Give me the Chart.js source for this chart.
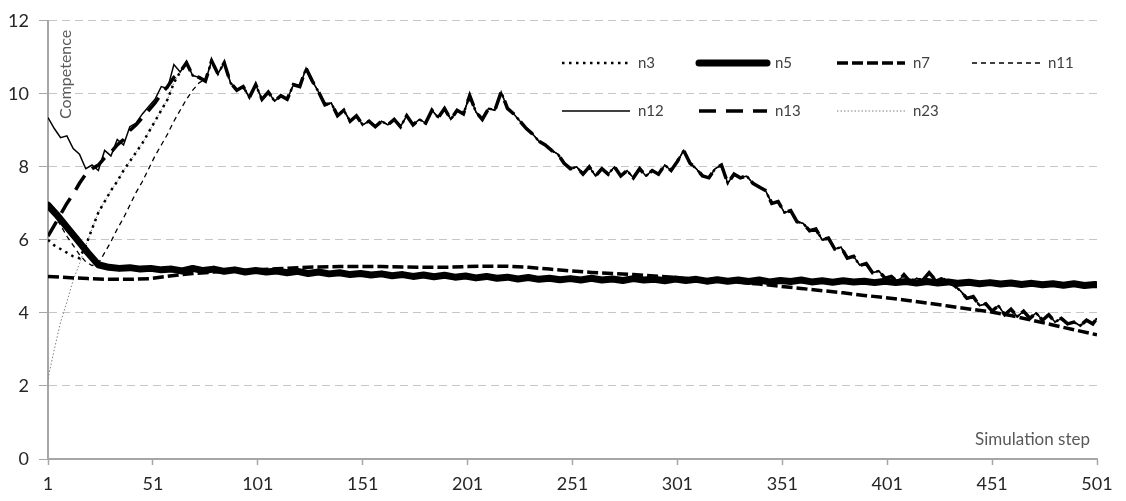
<!DOCTYPE html>
<html><head><meta charset="utf-8">
<script src="https://cdn.jsdelivr.net/npm/chart.js@4.4.1/dist/chart.umd.min.js"></script>
<style>html,body{margin:0;padding:0;background:#fff;}#wrap{width:1126px;height:501px;position:relative;}</style>
</head><body><div id="wrap"><canvas id="c"></canvas></div>
<script>
const xTickLabels = [1,51,101,151,201,251,301,351,401,451,501];
const yTickLabels = [0,2,4,6,8,10,12];
const seriesNames = ['n3','n5','n7','n11','n12','n13','n23'];

const earlySteps = [1,4,7,10,13,16,19,22,25,28,31,34,37,40,43,46,49,52,55,58,61];
const lateSteps = [64,67,70,73,76,79,82,85,88,91,94,97,100,103,106,109,112,115,118,121,124,127,130,133,136,139,142,145,148,151,154,157,160,163,166,169,172,175,178,181,184,187,190,193,196,199,202,205,208,211,214,217,220,223,226,229,232,235,238,241,244,247,250,253,256,259,262,265,268,271,274,277,280,283,286,289,292,295,298,301,304,307,310,313,316,319,322,325,328,331,334,337,340,343,346,349,352,355,358,361,364,367,370,373,376,379,382,385,388,391,394,397,400,403,406,409,412,415,418,421,424,427,430,433,436,439,442,445,448,451,454,457,460,463,466,469,472,475,478,481,484,487,490,493,496,499,501];
const topPath = [
 10.6,10.85,10.5,10.45,10.35,10.9,10.55,10.85,10.3,10.1,
 10.2,9.9,10.25,9.85,10.05,9.8,9.95,9.85,10.25,10.2,
 10.7,10.35,10.05,9.7,9.75,9.4,9.55,9.25,9.4,9.15,
 9.25,9.1,9.25,9.15,9.3,9.1,9.4,9.15,9.3,9.2,
 9.55,9.35,9.6,9.3,9.55,9.45,9.95,9.5,9.3,9.6,
 9.55,10.05,9.6,9.45,9.25,9.05,8.9,8.7,8.6,8.45,
 8.35,8.1,7.95,8.0,7.8,8.0,7.75,7.95,7.8,8.0,
 7.75,7.9,7.7,7.95,7.75,7.9,7.8,8.05,7.9,8.15,
 8.45,8.1,7.95,7.75,7.7,7.95,8.05,7.55,7.8,7.7,
 7.75,7.55,7.45,7.35,7.0,7.05,6.75,6.8,6.5,6.45,
 6.25,6.3,6.0,6.05,5.75,5.8,5.5,5.55,5.3,5.35,
 5.1,5.15,4.95,5.0,4.85,5.05,4.85,4.95,4.9,5.1,
 4.9,4.95,4.85,4.75,4.6,4.4,4.45,4.2,4.25,4.05,
 4.2,3.95,4.1,3.9,4.05,3.85,4.0,3.8,3.95,3.75,
 3.85,3.7,3.75,3.65,3.8,3.7,
 3.85];

const n3Early  = [6.0,5.85,5.75,5.65,5.55,5.5,5.85,6.3,6.75,7.05,7.35,7.6,7.9,8.15,8.4,8.65,8.95,9.25,9.55,9.85,10.3];
const n12Early = [9.35,9.05,8.8,8.85,8.5,8.35,7.95,8.05,7.9,8.45,8.3,8.75,8.6,9.1,9.2,9.45,9.65,9.85,10.2,10.15,10.8];
const n13Early = [6.1,6.4,6.7,7.0,7.25,7.55,7.8,7.95,8.05,8.25,8.4,8.6,8.75,9.0,9.15,9.35,9.55,9.75,10.0,10.2,10.45];
const n23Early = [2.2,3.0,3.75,4.3,4.9,5.35,5.85,6.3,6.75,7.05,7.35,7.6,7.9,8.15,8.4,8.65,8.95,9.25,9.55,9.85,10.3];
const n11Steps = [1,4,7,10,13,16,19,22,25,28,31,34,37,40,43,46,49,52,55,58,61,64,67,70,73,76];
const n11Early = [6.95,6.7,6.4,6.1,5.85,5.6,5.4,5.3,5.35,5.65,5.95,6.3,6.6,6.95,7.3,7.6,7.95,8.3,8.6,8.9,9.25,9.55,9.85,10.1,10.3,10.4];

const n5Steps = [1,5,10,15,20,25,30,35,40,45,50,55,60,65,70,75,80,85,90,95,100,105,110,115,120,125,130,135,140,145,150,155,160,165,170,175,180,185,190,195,200,205,210,215,220,225,230,235,240,245,250,255,260,265,270,275,280,285,290,295,300,305,310,315,320,325,330,335,340,345,350,355,360,365,370,375,380,385,390,395,400,405,410,415,420,425,430,435,440,445,450,455,460,465,470,475,480,485,490,495,500,501];
const n5Values = [6.95,6.7,6.35,6.0,5.65,5.32,
 5.25,5.22,5.24,5.2,5.22,5.18,5.2,5.15,5.22,5.16,
 5.2,5.14,5.18,5.12,5.16,5.12,5.15,5.1,5.14,5.08,
 5.12,5.07,5.1,5.05,5.08,5.04,5.07,5.02,5.05,5.0,
 5.04,4.99,5.03,4.98,5.01,4.96,5.0,4.95,4.98,4.93,
 4.97,4.92,4.95,4.91,4.94,4.9,4.95,4.9,4.93,4.89,
 4.94,4.9,4.92,4.88,4.93,4.89,4.92,4.87,4.91,4.87,
 4.9,4.86,4.9,4.85,4.89,4.86,4.9,4.85,4.88,4.84,
 4.88,4.85,4.87,4.83,4.87,4.83,4.86,4.82,4.86,4.82,
 4.85,4.81,4.84,4.8,4.83,4.79,4.82,4.78,4.81,4.77,
 4.8,4.76,4.8,4.75,4.78,4.77];

const n7Steps = [1,10,20,30,40,50,60,70,80,90,100,110,120,130,140,150,160,170,180,190,200,210,220,230,240,250,260,270,280,290,300,310,320,330,340,350,360,370,380,390,400,410,420,430,440,450,460,470,480,490,501];
const n7Values = [5.0,4.97,4.94,4.92,4.92,4.94,5.02,5.08,5.12,5.15,5.18,5.21,5.24,5.26,5.27,5.27,5.27,5.26,5.25,5.25,5.27,5.28,5.28,5.25,5.2,5.15,5.11,5.08,5.05,5.01,4.97,4.93,4.89,4.84,4.79,4.73,4.67,4.61,4.55,4.48,4.42,4.35,4.27,4.19,4.11,4.03,3.93,3.8,3.67,3.54,3.4];

function pts(steps, vals){ return steps.map((s,i)=>({x:s, y:vals[i]})); }
const allSteps = earlySteps.concat(lateSteps);

const datasets = [
 {label:seriesNames[0], data:pts(allSteps, n3Early.concat(topPath)), borderColor:'#000', borderWidth:2.5, borderDash:[2.5,4.5]},
 {label:seriesNames[1], data:pts(n5Steps, n5Values), borderColor:'#000', borderWidth:7, borderCapStyle:'round', borderJoinStyle:'round'},
 {label:seriesNames[2], data:pts(n7Steps, n7Values), borderColor:'#000', borderWidth:3.5, borderDash:[11,4]},
 {label:seriesNames[3], data:pts(n11Steps.concat(lateSteps.slice(5)), n11Early.concat(topPath.slice(5))), borderColor:'#000', borderWidth:1.3, borderDash:[5,4]},
 {label:seriesNames[4], data:pts(allSteps, n12Early.concat(topPath)), borderColor:'#000', borderWidth:1.5},
 {label:seriesNames[5], data:pts(allSteps, n13Early.concat(topPath)), borderColor:'#000', borderWidth:3.5, borderDash:[17,10]},
 {label:seriesNames[6], data:pts(allSteps, n23Early.concat(topPath)), borderColor:'#7f7f7f', borderWidth:1, borderDash:[1.5,2]}
];
datasets.forEach(d=>{d.fill=false; d.pointRadius=0; d.tension=0;});

const overlay = {
  id:'overlay',
  afterDraw(chart){
    const {ctx, chartArea} = chart;
    ctx.save();
    ctx.fillStyle = '#595959';
    ctx.font = '17px Lato';
    ctx.textBaseline = 'middle';
    ctx.textAlign = 'right';
    ctx.fillText('Simulation step', chartArea.right - 7, chartArea.bottom - 19);
    ctx.save();
    ctx.translate(chartArea.left + 18, chartArea.top + 9);
    ctx.rotate(-Math.PI/2);
    ctx.font = '16px Lato';
    ctx.fillText('Competence', 0, 0);
    ctx.restore();
    const cols = [562, 699, 837, 972], rows = [63, 111], sw = 68;
    const ds = chart.data.datasets;
    ds.forEach((d, i) => {
      const col = i < 4 ? i : i - 4, row = i < 4 ? 0 : 1;
      const x0 = cols[col], y = rows[row];
      ctx.save();
      ctx.strokeStyle = d.borderColor; ctx.lineWidth = d.borderWidth;
      ctx.setLineDash(d.borderDash || []);
      ctx.lineCap = d.borderCapStyle || 'butt';
      ctx.beginPath(); ctx.moveTo(x0, y); ctx.lineTo(x0 + sw, y); ctx.stroke();
      ctx.restore();
      ctx.fillStyle = '#404040'; ctx.font = '15px Lato'; ctx.textAlign = 'left';
      ctx.fillText(d.label, x0 + sw + 8, y);
    });
    ctx.restore();
  }
};

new Chart(document.getElementById('c'), {
  type:'line',
  data:{datasets},
  options:{
    responsive:true, maintainAspectRatio:false, animation:false,
    layout:{padding:{top:16, right:29, left:0, bottom:0}},
    plugins:{legend:{display:false}, tooltip:{enabled:false}},
    scales:{
      x:{type:'linear', min:1, max:501,
        afterBuildTicks:s=>{s.ticks = xTickLabels.map(v=>({value:v}));},
        afterFit:s=>{s.height = 42;},
        grid:{drawOnChartArea:false, drawTicks:true, tickLength:6, color:'#a6a6a6', tickColor:'#a6a6a6', tickWidth:1.5},
        border:{display:true, color:'#a6a6a6', width:2},
        ticks:{autoSkip:false, maxRotation:0, padding:8, color:'#262626', font:{family:'Lato', size:18}, callback:v=>String(v)}},
      y:{min:0, max:12,
        afterBuildTicks:s=>{s.ticks = yTickLabels.map(v=>({value:v}));},
        afterFit:s=>{s.width = 48;},
        grid:{color:'#c6c6c6', lineWidth:1, tickLength:9, tickColor:'#a6a6a6'},
        border:{display:true, color:'#a6a6a6', width:2, dash:[8,5]},
        ticks:{padding:10, color:'#262626', font:{family:'Lato', size:18}, callback:v=>String(v)}}
    }
  },
  plugins:[overlay]
});
</script></body></html>
